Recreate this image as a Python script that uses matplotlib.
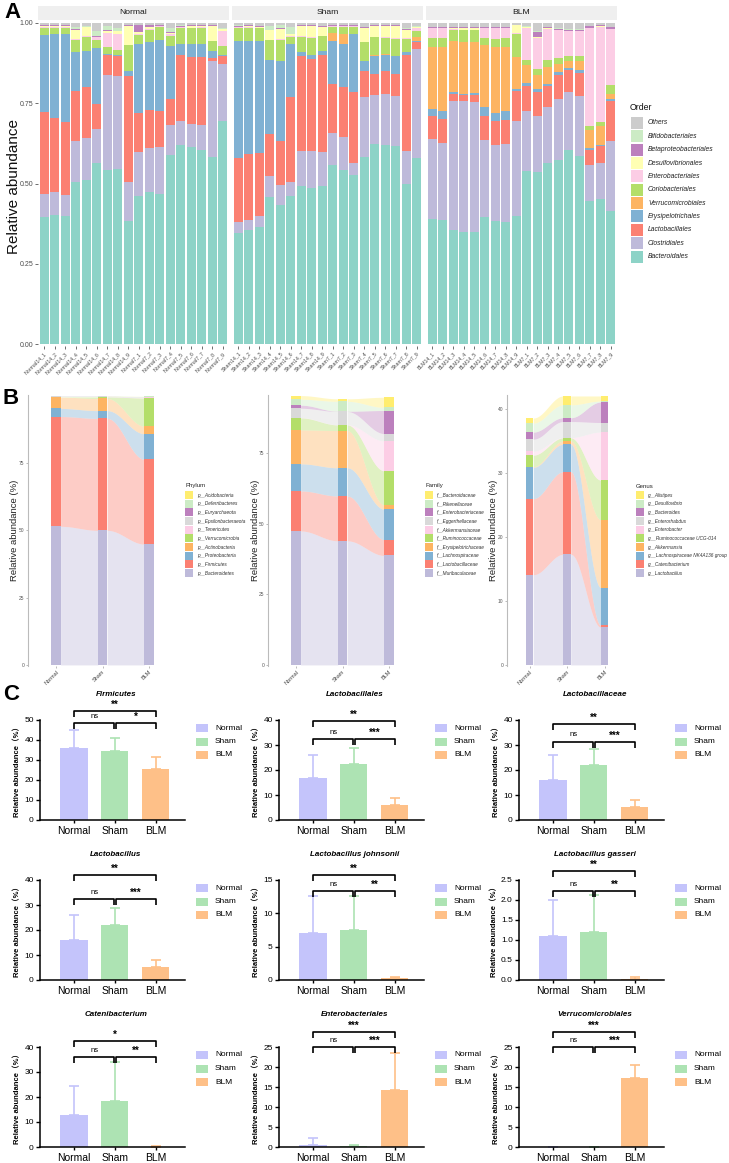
import numpy as np
import matplotlib.pyplot as plt
from matplotlib.patches import Rectangle
from matplotlib.transforms import blended_transform_factory

plt.rcParams['font.family'] = ['Liberation Sans', 'DejaVu Sans', 'Noto Sans CJK SC']

W, H = 729, 1163
fig = plt.figure(figsize=(W / 100, H / 100), dpi=100)


def box(x0, y0, x1, y1):
    """pixel box (top-left origin) -> figure fraction rect"""
    return [x0 / W, 1 - y1 / H, (x1 - x0) / W, (y1 - y0) / H]


def fx(x):
    return x / W


def fy(y):
    return 1 - y / H


# ---------------------------------------------------------------
# data: panel A (cumulative tops of the stacked segments per sample,
# order Bacteroidales .. Bifidobacteriales; Others fills to 1)
# ---------------------------------------------------------------
order_names = ['Bacteroidales', 'Clostridiales', 'Lactobacillales', 'Erysipelotrichales',
               'Verrucomicrobiales', 'Coriobacteriales', 'Enterobacteriales',
               'Desulfovibrionales', 'Betaproteobacteriales', 'Bifidobacteriales', 'Others']
order_colors = ['#8DD3C7', '#BEBADA', '#FB8072', '#80B1D3', '#FDB462', '#B3DE69',
                '#FCCDE5', '#FFFFB3', '#BC80BD', '#CCEBC5', '#CCCCCC']
groups = ['Normal', 'Sham', 'BLM']

normal_cum = [
    [.396, .467, .724, .962, .962, .985, .987, .990, .993, .994],
    [.401, .475, .705, .964, .964, .985, .987, .990, .993, .994],
    [.398, .465, .690, .964, .964, .984, .986, .989, .992, .993],
    [.505, .632, .788, .909, .909, .948, .950, .979, .980, .986],
    [.512, .643, .800, .914, .914, .957, .958, .986, .987, .990],
    [.564, .670, .746, .922, .922, .948, .955, .957, .960, .975],
    [.541, .839, .901, .904, .904, .924, .969, .976, .978, .990],
    [.545, .834, .896, .899, .899, .917, .966, .974, .976, .984],
    [.382, .506, .834, .849, .849, .930, .932, .990, .992, .993],
    [.462, .597, .718, .933, .933, .961, .966, .973, .994, .995],
    [.475, .609, .729, .940, .940, .979, .981, .988, .992, .993],
    [.468, .613, .725, .946, .946, .988, .989, .991, .993, .994],
    [.588, .681, .764, .927, .927, .958, .967, .969, .971, .984],
    [.620, .695, .900, .933, .933, .984, .986, .988, .990, .992],
    [.614, .686, .894, .933, .933, .983, .985, .990, .992, .993],
    [.604, .681, .894, .933, .933, .985, .987, .990, .992, .993],
    [.583, .880, .892, .914, .914, .943, .945, .990, .992, .993],
    [.696, .873, .898, .900, .900, .927, .974, .980, .982, .984],
]
sham_cum = [
    [.346, .379, .580, .945, .945, .984, .986, .988, .991, .992],
    [.356, .387, .593, .944, .944, .985, .987, .989, .992, .993],
    [.364, .398, .595, .943, .943, .983, .985, .987, .990, .991],
    [.458, .522, .655, .886, .886, .946, .948, .977, .979, .990],
    [.432, .495, .631, .883, .883, .948, .950, .981, .983, .992],
    [.462, .504, .768, .935, .935, .956, .958, .964, .966, .988],
    [.491, .600, .896, .909, .909, .956, .958, .990, .992, .993],
    [.485, .602, .889, .901, .901, .953, .955, .990, .992, .993],
    [.491, .598, .901, .912, .912, .958, .960, .988, .990, .991],
    [.557, .657, .811, .943, .969, .988, .989, .990, .992, .993],
    [.543, .645, .800, .934, .966, .988, .989, .990, .992, .993],
    [.525, .563, .786, .966, .966, .988, .989, .990, .992, .993],
    [.582, .770, .849, .881, .881, .940, .942, .984, .986, .988],
    [.623, .775, .842, .898, .901, .955, .957, .990, .992, .993],
    [.620, .779, .849, .901, .904, .953, .955, .990, .992, .993],
    [.616, .774, .842, .898, .898, .951, .953, .990, .992, .993],
    [.498, .600, .899, .910, .910, .951, .953, .979, .981, .984],
    [.580, .920, .941, .945, .956, .976, .984, .986, .988, .990],
]
blm_cum = [
    [.390, .639, .709, .733, .925, .954, .984, .985, .987, .988],
    [.385, .626, .701, .726, .925, .954, .984, .985, .987, .988],
    [.356, .757, .780, .784, .944, .979, .980, .985, .987, .988],
    [.349, .756, .776, .780, .940, .977, .979, .985, .987, .988],
    [.348, .753, .777, .782, .940, .977, .979, .984, .986, .987],
    [.396, .637, .711, .738, .930, .953, .984, .985, .987, .988],
    [.384, .621, .695, .720, .924, .951, .984, .985, .987, .988],
    [.380, .624, .697, .725, .925, .953, .984, .985, .987, .988],
    [.400, .695, .787, .794, .894, .967, .969, .992, .994, .995],
    [.538, .726, .805, .813, .868, .886, .983, .986, .988, .989],
    [.536, .711, .784, .794, .839, .855, .953, .956, .972, .974],
    [.564, .738, .803, .811, .863, .886, .981, .983, .986, .987],
    [.572, .763, .837, .847, .872, .891, .977, .979, .982, .983],
    [.605, .786, .852, .860, .881, .898, .974, .976, .979, .980],
    [.585, .771, .845, .853, .880, .898, .974, .976, .979, .980],
    [.444, .559, .603, .609, .666, .679, .984, .985, .990, .991],
    [.452, .564, .616, .619, .678, .693, .988, .989, .993, .994],
    [.413, .633, .758, .763, .779, .808, .981, .982, .986, .987],
]

# ---------------------------------------------------------------
# data: panel B (relative abundance %, bottom -> top)
# ---------------------------------------------------------------
b_columns = ['Normal', 'Sham', 'BLM']
phylum_names = ['p__Bacteroidetes', 'p__Firmicutes', 'p__Proteobacteria', 'p__Actinobacteria',
                'p__Verrucomicrobia', 'p__Tenericutes', 'p__Epsilonbacteraeota',
                'p__Euryarchaeota', 'p__Deferribacteres', 'p__Acidobacteria']
phylum_normal = [51.5, 40.8, 3.0, 4.2, 0.1, 0.1, 0.1, 0.05, 0.1, 0.05]
phylum_sham = [50.0, 41.6, 2.9, 4.5, 0.6, 0.1, 0.1, 0.05, 0.1, 0.05]
phylum_blm = [44.9, 31.5, 9.5, 2.8, 10.5, 0.2, 0.1, 0.05, 0.2, 0.05]

family_names = ['f__Muribaculaceae', 'f__Lactobacillaceae', 'f__Lachnospiraceae',
                'f__Erysipelotrichaceae', 'f__Ruminococcaceae', 'f__Akkermansiaceae',
                'f__Eggerthellaceae', 'f__Enterobacteriaceae', 'f__Rikenellaceae',
                'f__Bacteroidaceae']
family_normal = [47.5, 14.2, 9.6, 12.0, 4.3, 0.1, 3.3, 1.1, 2.1, 1.3]
family_sham = [44.0, 15.9, 10.0, 13.2, 2.0, 0.05, 4.7, 0.1, 3.5, 0.9]
family_blm = [38.8, 5.6, 10.8, 1.5, 12.1, 10.6, 2.6, 8.2, 1.1, 3.6]

genus_names = ['g__Lactobacillus', 'g__Catenibacterium', 'g__Lachnospiraceae NK4A136 group',
               'g__Akkermansia', 'g__Ruminococcaceae UCG-014', 'g__Enterobacter',
               'g__Enterorhabdus', 'g__Bacteroides', 'g__Desulfovibrio', 'g__Alistipes']
genus_normal = [14.1, 11.9, 4.9, 0.1, 1.8, 0.6, 1.9, 1.1, 1.4, 0.8]
genus_sham = [17.3, 12.9, 4.3, 0.5, 0.5, 0.05, 2.5, 0.6, 2.0, 1.4]
genus_blm = [5.9, 0.3, 5.9, 10.6, 6.2, 7.5, 1.5, 3.2, 0.15, 0.8]

b_colors = ['#BEBADA', '#FB8072', '#80B1D3', '#FDB462', '#B3DE69', '#FCCDE5',
            '#D9D9D9', '#BC80BD', '#CCEBC5', '#FFED6F']

# ---------------------------------------------------------------
# data: panel C (mean and upper error, %)
# ---------------------------------------------------------------
c_groups = ['Normal', 'Sham', 'BLM']
c_colors = ['#C4C4FB', '#ADE3B3', '#FEC088']
c_titles = ['Firmicutes', 'Lactobacillales', 'Lactobacillaceae',
            'Lactobacillus', 'Lactobacillus johnsonii', 'Lactobacillus gasseri',
            'Catenibacterium', 'Enterobacteriales', 'Verrucomicrobiales']
c_means = [[36.0, 34.6, 25.6], [16.9, 22.4, 5.9], [16.1, 21.9, 5.2],
           [16.1, 22.1, 5.4], [7.0, 7.45, 0.25], [1.10, 1.20, 0.025],
           [13.0, 18.5, 0.2], [0.4, 0.25, 14.3], [0.05, 0.05, 17.2]]
c_errs = [[9.0, 6.3, 5.7], [9.1, 6.5, 2.8], [9.9, 6.7, 2.7],
          [10.1, 6.8, 2.7], [5.6, 5.15, 0.2], [0.9, 0.92, 0.045],
          [11.6, 15.5, 0.1], [1.8, 0.25, 9.2], [0.05, 0.05, 3.2]]
c_ymax = [50, 40, 40, 40, 15, 2.5, 40, 25, 25]
c_step = [10, 10, 10, 10, 5, 0.5, 10, 5, 5]
c_sig = [('**', 'ns', '*'), ('**', 'ns', '***'), ('**', 'ns', '***'),
         ('**', 'ns', '***'), ('**', 'ns', '**'), ('**', 'ns', '**'),
         ('*', 'ns', '**'), ('***', 'ns', '***'), ('***', 'ns', '***')]

# ===============================================================
# PANEL A: stacked bars per sample, faceted by group
# ===============================================================
fig.text(fx(4), fy(2), 'A', fontsize=16, fontweight='bold', va='top', ha='left')

facet_x = [(38, 229), (232, 423), (426, 617)]
cum_sets = [normal_cum, sham_cum, blm_cum]
for gi, g in enumerate(groups):
    x0, x1 = facet_x[gi]
    ax = fig.add_axes(box(x0, 21, x1, 346))
    cum = np.array(cum_sets[gi])
    n = len(cum)
    tops = np.column_stack([cum, np.ones(n)])
    bots = np.column_stack([np.zeros(n), cum])
    xs = np.arange(n)
    for k in range(len(order_names)):
        ax.bar(xs, tops[:, k] - bots[:, k], bottom=bots[:, k], width=0.88,
               color=order_colors[k], linewidth=0)
    ax.set_xlim(-0.6, n - 0.4)
    ax.set_ylim(-0.006, 1.006)
    for s in ax.spines.values():
        s.set_visible(False)
    labels = [f'{g}{d}_{i}' for d in (14, 7) for i in range(1, 10)]
    ax.set_xticks(xs)
    ax.set_xticklabels(labels, rotation=45, ha='right', rotation_mode='anchor',
                       fontsize=3.8, color='#4D4D4D')
    ax.tick_params(axis='x', length=2, width=0.5, color='#333333', pad=1.5)
    if gi == 0:
        ax.set_yticks([0, 0.25, 0.5, 0.75, 1.0])
        ax.set_yticklabels(['0.00', '0.25', '0.50', '0.75', '1.00'], fontsize=5, color='#4D4D4D')
        ax.tick_params(axis='y', length=2, width=0.5, color='#333333', pad=1.5)
    else:
        ax.set_yticks([])
    # facet strip
    sax = fig.add_axes(box(x0, 6, x1, 20))
    sax.set_facecolor('#EFEFEF')
    sax.set_xticks([])
    sax.set_yticks([])
    for s in sax.spines.values():
        s.set_visible(False)
    sax.text(0.5, 0.5, g, ha='center', va='center', fontsize=6.1, color='#1A1A1A',
             transform=sax.transAxes)

fig.text(fx(14), fy(186), 'Relative abundance', rotation=90, fontsize=11,
         ha='center', va='center', color='#111111')

# legend A
fig.text(fx(630), fy(108), 'Order', fontsize=6.3, ha='left', va='center', color='#111111')
for i, k in enumerate(range(len(order_names) - 1, -1, -1)):
    yc = 123 + i * 13.35
    fig.patches.append(Rectangle((fx(631), fy(yc + 6)), 12 / W, 12 / H,
                                 transform=fig.transFigure, color=order_colors[k], linewidth=0))
    fig.text(fx(648), fy(yc), order_names[k], fontsize=4.9, style='italic',
             ha='left', va='center', color='#222222')

# ===============================================================
# PANEL B: alluvial plots
# ===============================================================
fig.text(fx(3), fy(388), 'B', fontsize=16, fontweight='bold', va='top', ha='left')


def alluvial(ax, cols, colors, width):
    vals = np.array(cols, dtype=float)
    tops = np.cumsum(vals, axis=1)
    bots = tops - vals
    xs = np.arange(1, len(cols) + 1)
    u = np.linspace(0, 1, 80)
    s = (1 - np.cos(np.pi * u)) / 2
    for k in range(vals.shape[1]):
        for j in range(len(xs) - 1):
            xa, xb = xs[j] + width / 2, xs[j + 1] - width / 2
            xx = xa + (xb - xa) * u
            lo = bots[j, k] + (bots[j + 1, k] - bots[j, k]) * s
            hi = tops[j, k] + (tops[j + 1, k] - tops[j, k]) * s
            ax.fill_between(xx, lo, hi, color=colors[k], alpha=0.4, linewidth=0)
    for k in range(vals.shape[1]):
        ax.bar(xs, vals[:, k], bottom=bots[:, k], width=width, color=colors[k], linewidth=0)


b_specs = [
    ([phylum_normal, phylum_sham, phylum_blm], phylum_names, 'Phylum',
     (28, 177), 100.3, [0, 25, 50, 75], 185, 15),
    ([family_normal, family_sham, family_blm], family_names, 'Family',
     (268, 417), 95.7, [0, 25, 50, 75], 425, 255),
    ([genus_normal, genus_sham, genus_blm], genus_names, 'Genus',
     (507, 627), 42.2, [0, 10, 20, 30, 40], 636, 494),
]
for cols, names, ltitle, (x0, x1), ytop, yt, leg_x, ylab_x in b_specs:
    ax = fig.add_axes(box(x0, 395, x1, 666))
    alluvial(ax, cols, b_colors, 0.2)
    ax.set_xlim(0.4, 3.6)
    ax.set_ylim(-ytop * 0.004, ytop)
    for side in ('top', 'right', 'bottom'):
        ax.spines[side].set_visible(False)
    ax.spines['left'].set_color('#BBBBBB')
    ax.spines['left'].set_linewidth(0.8)
    ax.set_yticks(yt)
    ax.set_yticklabels([str(v) for v in yt], fontsize=3.5, color='#555555')
    ax.set_xticks([1, 2, 3])
    ax.set_xticklabels(b_columns, rotation=45, ha='right', rotation_mode='anchor',
                       fontsize=4, color='#444444')
    ax.tick_params(length=1.5, width=0.4, color='#888888', pad=1)
    fig.text(fx(ylab_x), fy(530), 'Relative abundance (%)', rotation=90, fontsize=6.8,
             ha='center', va='center', color='#222222')
    # legend
    fig.text(fx(leg_x), fy(486), ltitle, fontsize=4.3, ha='left', va='center', color='#222222')
    for i, k in enumerate(range(len(names) - 1, -1, -1)):
        yc = 495 + i * 8.67
        fig.patches.append(Rectangle((fx(leg_x), fy(yc + 4)), 8 / W, 8 / H,
                                     transform=fig.transFigure, color=b_colors[k], linewidth=0))
        fig.text(fx(leg_x + 12), fy(yc), names[k], fontsize=3.4, style='italic',
                 ha='left', va='center', color='#333333')

# ===============================================================
# PANEL C: bar charts with significance brackets
# ===============================================================
fig.text(fx(3), fy(684), 'C', fontsize=16, fontweight='bold', va='top', ha='left')

col_x = [40, 279, 519]
row_y = [(720, 820), (880, 980), (1047, 1147)]
title_off = [26, 26, 32]
c_levels = [(1.09, 0.97), (0.99, 0.81), (0.96, 0.78),
            (1.05, 0.81), (1.05, 0.89), (1.09, 0.89),
            (1.06, 0.90), (1.15, 1.00), (1.15, 1.00)]

for idx in range(9):
    r, c = divmod(idx, 3)
    x0 = col_x[c]
    y0, y1 = row_y[r]
    ax = fig.add_axes(box(x0, y0, x0 + 145, y1))
    xs = np.arange(3)
    means = c_means[idx]
    errs = c_errs[idx]
    for j in range(3):
        ax.errorbar(xs[j], means[j], yerr=[[0], [errs[j]]], color=c_colors[j],
                    capsize=3.5, elinewidth=1.2, capthick=1.2, zorder=1)
    ax.bar(xs, means, width=0.66, color=c_colors, linewidth=0, zorder=2)
    ax.set_xlim(-0.83, 2.71)
    ax.set_ylim(0, c_ymax[idx])
    ticks = np.arange(0, c_ymax[idx] + c_step[idx] / 2, c_step[idx])
    ax.set_yticks(ticks)
    if c_step[idx] < 1:
        ax.set_yticklabels([f'{t:.1f}' for t in ticks])
    else:
        ax.set_yticklabels([f'{t:g}' for t in ticks])
    ax.set_xticks(xs)
    ax.set_xticklabels(c_groups, fontsize=7.5)
    ax.tick_params(axis='y', labelsize=6, length=3, width=1, pad=1.5)
    ax.tick_params(axis='x', length=2.5, width=1, pad=2)
    for side in ('top', 'right'):
        ax.spines[side].set_visible(False)
    for side in ('left', 'bottom'):
        ax.spines[side].set_linewidth(1.1)
    ax.set_ylabel('Relative abundance（%）', fontsize=5.5, fontweight='bold', labelpad=2,
                  family=['Liberation Sans', 'Noto Sans CJK SC'])

    # title
    fig.text(fx(x0 + 76), fy(y0 - title_off[r]), c_titles[idx], fontsize=5.8,
             fontweight='bold', style='italic', ha='center', va='center')

    # significance brackets
    tr = blended_transform_factory(ax.transData, ax.transAxes)
    top, inner = c_levels[idx]
    tk = 0.06

    def bracket(a, b, y):
        ax.plot([a, a, b, b], [y - tk, y, y, y - tk], color='black', lw=1.2,
                transform=tr, clip_on=False, solid_capstyle='butt')

    bracket(0, 2, top)
    bracket(0, 0.97, inner)
    bracket(1.03, 2, inner)
    s_top, s_left, s_right = c_sig[idx]
    ax.text(1, top + 0.015, s_top, ha='center', va='bottom', fontsize=7,
            fontweight='bold', transform=tr)
    ax.text(0.5, inner + 0.035, s_left, ha='center', va='bottom', fontsize=5.5,
            transform=tr)
    ax.text(1.5, inner + 0.015, s_right, ha='center', va='bottom', fontsize=7,
            fontweight='bold', transform=tr)

    # legend
    for j in range(3):
        yc = y0 + 8 + j * 13.5
        fig.patches.append(Rectangle((fx(x0 + 156), fy(yc + 4)), 12 / W, 8 / H,
                                     transform=fig.transFigure, color=c_colors[j], linewidth=0))
        fig.text(fx(x0 + 175), fy(yc), c_groups[j], fontsize=6, ha='left', va='center')

plt.savefig('out.png', dpi=100, facecolor='white')
